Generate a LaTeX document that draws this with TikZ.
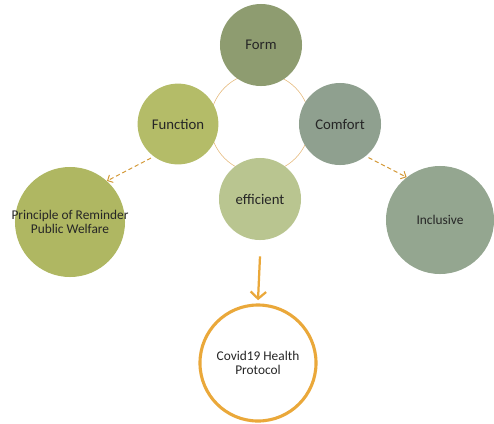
\documentclass[tikz,border=0pt]{standalone}
\usepackage{fontspec}
\setmainfont{Carlito}
\usetikzlibrary{arrows.meta}
\definecolor{formgreen}{HTML}{8E9C70}
\definecolor{funcgreen}{HTML}{B4BC68}
\definecolor{comfgreen}{HTML}{8FA08F}
\definecolor{effgreen}{HTML}{B9C590}
\definecolor{princgreen}{HTML}{AFB762}
\definecolor{inclgreen}{HTML}{94A690}
\definecolor{covorange}{HTML}{EAA83A}
\tikzset{
  blob/.style={circle, inner sep=0pt, align=center, text=black!85, font=\fontsize{10.5}{11}\selectfont},
  small/.style={align=center, text=black!85, font=\fontsize{9.5}{10.5}\selectfont},
  link/.style={draw=covorange!90!black, densely dashed, line width=0.7pt, -{Straight Barb[length=3pt,width=6pt]}}
}

\begin{document}
\begin{tikzpicture}[x=0.025cm, y=-0.025cm]
                        \useasboundingbox (0,0) rectangle (494,423);
                        % Ring:
                        \draw[covorange!60!brown!70, line width=0.4pt] (260,123) circle (50);

                        % Top cluster:
                        \node[blob, fill=formgreen, minimum size=2.05cm] (form) at (261,45) {Form};
                        \node[blob, fill=funcgreen, minimum size=2.02cm] (function) at (178,124) {Function};
                        \node[blob, fill=comfgreen, minimum size=2.05cm] (comfort) at (340,124) {Comfort};
                        \node[blob, fill=effgreen, minimum size=2.05cm] (efficient) at (260,199) {efficient};

                        % Outer circles:
                        \node[blob, fill=princgreen, minimum size=2.75cm] (principle) at (70,222) {};
                        \node[small] (principletext) at (principle) {Principle of Reminder\\Public Welfare};
                        \node[blob, fill=inclgreen, minimum size=2.7cm] (inclusive) at (440,220) {};
                        \node[small] (inclusivetext) at (inclusive) {Inclusive};
                        \node[blob, draw=covorange, line width=2.2pt, fill=white, minimum size=2.9cm] (covid) at (258,363) {};
                        \node[small] (covidtext) at (covid) {Covid19 Health\\Protocol};

                        % Arrows:
                        \draw[link] ([shift={(-0.05cm,-0.05cm)}]function.232) -- (principle.48);
                        \draw[link] ([shift={(0.05cm,-0.05cm)}]comfort.-50) -- (inclusive.128);
                        \draw[covorange, line width=1.6pt, -{Straight Barb[length=5pt,width=11pt]}] ([yshift=-0.4cm]efficient.south) -- ([yshift=0.08cm]covid.north);
                    \end{tikzpicture}
\end{document}
